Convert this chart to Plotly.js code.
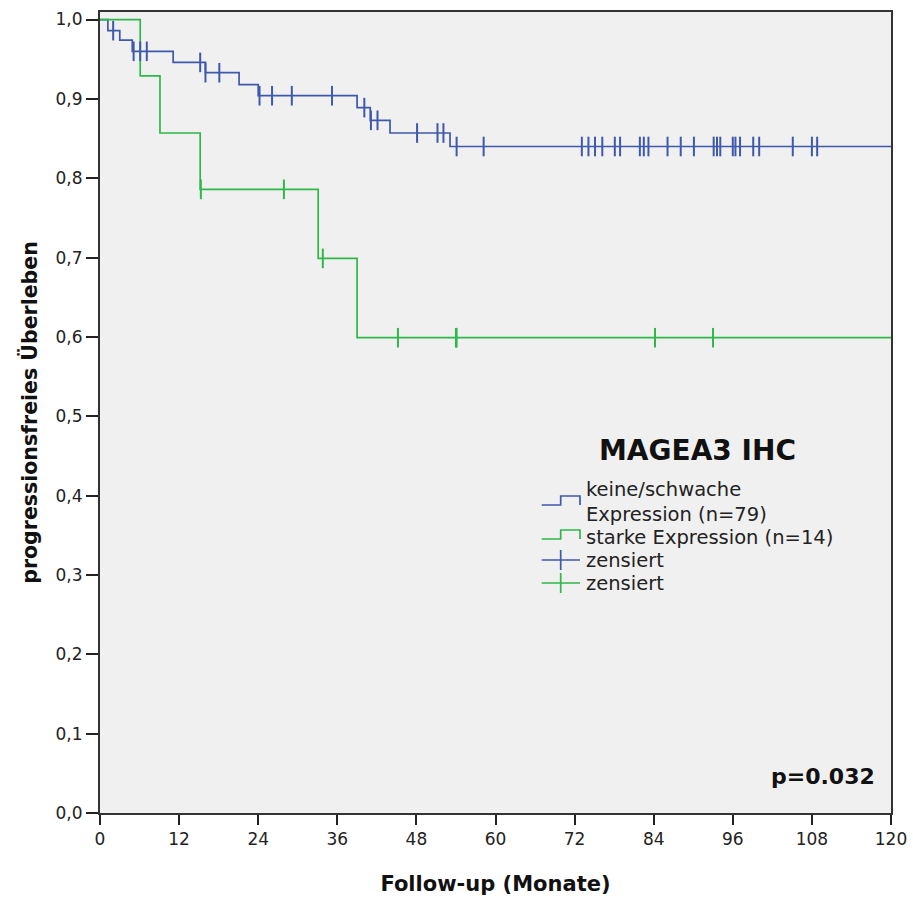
<!DOCTYPE html>
<html>
<head>
<meta charset="utf-8">
<script src="https://cdn.plot.ly/plotly-3.0.1.min.js"></script>
<style>html,body{margin:0;padding:0;background:#fff;}#chart{width:913px;height:898px;}</style>
</head>
<body>
<div id="chart"></div>
<script>
// ---- data ----
const groupNames = ["keine/schwache<br>Expression (n=79)", "starke Expression (n=14)"];
const censorLabel = "zensiert";
const chartTitle = "MAGEA3 IHC";
const pValueText = "p=0.032";

// Kaplan-Meier steps: times (months) and survival after each step
const blueTimes    = [0, 1.2, 3.0, 4.9, 11.1, 16.0, 21.1, 24.0, 39.0, 41.0, 44.0, 53.1, 120];
const blueSurvival = [1.0, 0.986, 0.974, 0.960, 0.946, 0.933, 0.918, 0.904, 0.889, 0.873, 0.857, 0.840, 0.840];
const blueCensored = [2.0, 5.1, 6.1, 7.1, 15.2, 16.0, 18.1, 24.2, 26.1, 29.1, 35.2, 40.1, 41.1, 42.1,
                      48.1, 51.2, 52.1, 54.1, 58.2, 73.1, 74.1, 75.1, 76.2, 78.1, 78.9, 81.9, 82.5, 83.2,
                      86.1, 88.1, 90.1, 93.1, 93.6, 94.1, 96.0, 96.4, 97.1, 99.1, 100.0, 105.1, 108.0, 108.8];

const greenTimes    = [0, 6.1, 9.1, 15.2, 33.1, 39.0, 120];
const greenSurvival = [1.0, 0.929, 0.857, 0.786, 0.699, 0.599, 0.599];
const greenCensored = [15.3, 27.9, 33.8, 45.2, 54.0, 54.1, 84.2, 93.0];

const xTicks = [0, 12, 24, 36, 48, 60, 72, 84, 96, 108, 120];
const yTicks = [0, 0.1, 0.2, 0.3, 0.4, 0.5, 0.6, 0.7, 0.8, 0.9, 1.0];
const yTickText = ["0,0","0,1","0,2","0,3","0,4","0,5","0,6","0,7","0,8","0,9","1,0"];
const xTitle = "Follow-up (Monate)";
const yTitle = "progressionsfreies Überleben";

// ---- styling ----
const BLUE = "#3E58AC";
const GREEN = "#2EB848";
const FONT = "DejaVu Sans, Verdana, sans-serif";

function survAt(times, surv, t) {
  let v = surv[0];
  for (let i = 0; i < times.length; i++) { if (t >= times[i]) v = surv[i]; }
  return v;
}

const traces = [
  {x: blueTimes, y: blueSurvival, mode: "lines", line: {shape: "hv", color: BLUE, width: 1.7}, hoverinfo: "skip"},
  {x: greenTimes, y: greenSurvival, mode: "lines", line: {shape: "hv", color: GREEN, width: 1.7}, hoverinfo: "skip"},
  {x: blueCensored, y: blueCensored.map(t => survAt(blueTimes, blueSurvival, t)), mode: "markers",
   marker: {symbol: "line-ns", size: 14, line: {color: BLUE, width: 2}}, hoverinfo: "skip"},
  {x: greenCensored, y: greenCensored.map(t => survAt(greenTimes, greenSurvival, t)), mode: "markers",
   marker: {symbol: "line-ns", size: 14, line: {color: GREEN, width: 2}}, hoverinfo: "skip"}
];

// pixel -> paper helpers for the hand-drawn legend
const L = 100, R = 22, T = 12, B = 85, W = 913, H = 898;
const px = v => (v - L) / (W - L - R);
const py = v => (H - B - v) / (H - T - B);

function stepIcon(yLow, yHigh, color) {
  return {type: "path", xref: "paper", yref: "paper",
    path: `M${px(541.7)},${py(yLow)} L${px(560.7)},${py(yLow)} L${px(560.7)},${py(yHigh)} L${px(580)},${py(yHigh)} L${px(580)},${py(yLow)}`,
    line: {color: color, width: 1.7}};
}
function crossIcon(yc, color) {
  return [
    {type: "line", xref: "paper", yref: "paper", x0: px(541.7), x1: px(580), y0: py(yc), y1: py(yc), line: {color: color, width: 1.7}},
    {type: "line", xref: "paper", yref: "paper", x0: px(560.7), x1: px(560.7), y0: py(yc - 10), y1: py(yc + 10), line: {color: color, width: 1.7}}
  ];
}

const shapes = [
  stepIcon(505, 496, BLUE),
  stepIcon(539, 530, GREEN),
  ...crossIcon(560, BLUE),
  ...crossIcon(583, GREEN)
];

function legendText(text, yc) {
  return {xref: "paper", yref: "paper", x: px(584), y: py(yc), xanchor: "left", yanchor: "middle",
    text: text, showarrow: false, align: "left", font: {family: FONT, size: 19.5, color: "#222"}};
}

const annotations = [
  {xref: "paper", yref: "paper", x: px(697), y: py(450), xanchor: "center", yanchor: "middle",
   text: "<b>" + chartTitle + "</b>", showarrow: false, font: {family: FONT, size: 28, color: "#111"}},
  legendText(groupNames[0], 502),
  legendText(groupNames[1], 537),
  legendText(censorLabel, 560),
  legendText(censorLabel, 583),
  {xref: "paper", yref: "paper", x: px(877), y: py(776), xanchor: "right", yanchor: "middle",
   text: "<b>" + pValueText + "</b>", showarrow: false, font: {family: FONT, size: 22, color: "#111"}}
];

const layout = {
  width: W, height: H,
  margin: {l: L, r: R, t: T, b: B, pad: 0},
  paper_bgcolor: "#ffffff",
  plot_bgcolor: "#f0f0f0",
  showlegend: false,
  xaxis: {
    range: [0, 120], tickvals: xTicks, ticktext: xTicks.map(String),
    ticks: "outside", ticklen: 10, tickwidth: 2, tickcolor: "#222",
    showline: true, linecolor: "#333", linewidth: 2, mirror: true,
    showgrid: false, zeroline: false,
    tickfont: {family: FONT, size: 17, color: "#222"},
    title: {text: "<b>" + xTitle + "</b>", font: {family: FONT, size: 21, color: "#111"}, standoff: 28}
  },
  yaxis: {
    range: [0, 1.0095], tickvals: yTicks, ticktext: yTickText,
    ticks: "outside", ticklen: 12, tickwidth: 2, tickcolor: "#222",
    showline: true, linecolor: "#333", linewidth: 2, mirror: true,
    showgrid: false, zeroline: false,
    tickfont: {family: FONT, size: 17, color: "#222"},
    title: {text: "<b>" + yTitle + "</b>", font: {family: FONT, size: 20.5, color: "#111"}, standoff: 12}
  },
  shapes: shapes,
  annotations: annotations
};

Plotly.newPlot("chart", traces, layout, {displayModeBar: false, staticPlot: true});
</script>
</body>
</html>
